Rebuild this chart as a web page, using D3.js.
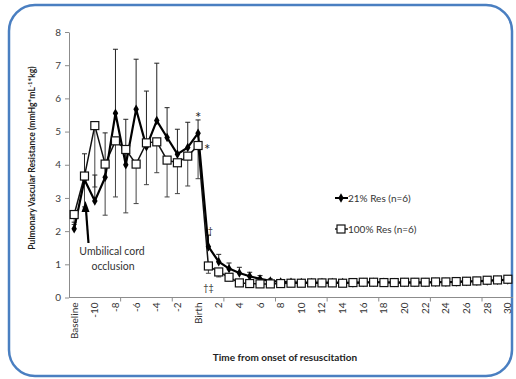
<!DOCTYPE html>
<html>
<head>
<meta charset="utf-8">
<script src="https://cdn.jsdelivr.net/npm/d3@7"></script>
<style>
  html, body { margin: 0; padding: 0; background: #fff; }
  svg { display: block; font-family: Lato, "Open Sans", sans-serif; }
</style>
</head>
<body>
<svg id="chart" width="516" height="379"></svg>
<script>
// Time points: baseline, minutes before birth, birth, minutes after birth
const categories = ["Baseline", "-11", "-10", "-9", "-8", "-7", "-6", "-5", "-4", "-3", "-2", "-1", "Birth",
  "1", "2", "3", "4", "5", "6", "7", "8", "9", "10", "11", "12", "13", "14", "15",
  "16", "17", "18", "19", "20", "21", "22", "23", "24", "25", "26", "27", "28", "29", "30"];

// Every other time point carries a label
const tickLabels = categories.filter((c, i) => i % 2 === 0);

// 21% O2 resuscitation: mean PVR and upper error
const res21 = [2.07, 3.55, 2.91, 3.62, 5.55, 4.0, 5.67, 4.54, 5.33, 4.82, 4.32, 4.52, 4.95,
  1.53, 1.08, 0.87, 0.74, 0.64, 0.56, 0.5, 0.47, 0.46, 0.45,
  0.45, 0.45, 0.45, 0.45, 0.44, 0.45, 0.46, 0.46, 0.45, 0.45,
  0.45, 0.45, 0.46, 0.46, 0.47, 0.48, 0.49, 0.5, 0.52, 0.53];
const res21Err = [0.2, 0.78, 0.78, 1.34, 1.93, 1.37, 1.51, 1.68, 1.73, 0.9, 0.75, 0.76, 0.4,
  0.35, 0.22, 0.17, 0.17, 0.12, 0.1, 0.06, 0.05, 0.04, 0.04,
  0.04, 0.04, 0.04, 0.04, 0.04, 0.04, 0.04, 0.04, 0.04, 0.04,
  0.04, 0.04, 0.04, 0.04, 0.04, 0.04, 0.04, 0.04, 0.04, 0.04];

// 100% O2 resuscitation: mean PVR and lower error
const res100 = [2.5, 3.66, 5.18, 4.02, 4.72, 4.46, 4.02, 4.66, 4.69, 4.14, 4.06, 4.26, 4.58,
  0.95, 0.77, 0.61, 0.44, 0.42, 0.41, 0.41, 0.42, 0.43, 0.43,
  0.44, 0.44, 0.44, 0.43, 0.45, 0.46, 0.46, 0.45, 0.45, 0.46,
  0.46, 0.46, 0.47, 0.47, 0.48, 0.49, 0.5, 0.52, 0.53, 0.55];
const res100Err = [0.3, 0.93, 1.85, 1.54, 1.69, 1.91, 1.19, 1.26, 0.93, 1.11, 0.93, 0.9, 1.0,
  0.22, 0.15, 0.1, 0.05, 0.04, 0.04, 0.04, 0.04, 0.04, 0.04,
  0.04, 0.04, 0.04, 0.04, 0.04, 0.04, 0.04, 0.04, 0.04, 0.04,
  0.04, 0.04, 0.04, 0.04, 0.04, 0.04, 0.04, 0.04, 0.04, 0.04];

const yTicks = [0, 1, 2, 3, 4, 5, 6, 7, 8];
const seriesNames = ["21% Res (n=6)", "100% Res (n=6)"];

const svg = d3.select("#chart");

// Rounded frame
svg.append("rect")
  .attr("x", 9).attr("y", 5).attr("width", 503).attr("height", 371)
  .attr("rx", 26).attr("ry", 26)
  .attr("fill", "#fff").attr("stroke", "#4a7fc1").attr("stroke-width", 2.5);

const x = d3.scaleBand().domain(categories).range([69, 513]).padding(0);
const xc = c => x(c) + x.bandwidth() / 2;
const y = d3.scaleLinear().domain([0, 8]).range([297.5, 32]);

// Y axis
const yAxis = svg.append("g")
  .attr("transform", "translate(69,0)")
  .call(d3.axisLeft(y).tickValues(yTicks).tickSize(4).tickSizeOuter(0).tickFormat(d3.format("d")));
yAxis.select(".domain").attr("stroke", "#8c8c8c");
yAxis.selectAll(".tick line").attr("stroke", "#8c8c8c");
yAxis.selectAll(".tick text").attr("fill", "#404040").attr("font-size", 10).attr("x", -8)
  .attr("font-family", "Lato, sans-serif");

// X axis line and tick marks (every 5 time points)
const xAxisG = svg.append("g");
xAxisG.append("line")
  .attr("x1", x.range()[0]).attr("x2", x.range()[1])
  .attr("y1", y(0)).attr("y2", y(0))
  .attr("stroke", "#8c8c8c");
xAxisG.selectAll("line.tk")
  .data(categories.filter((c, i) => i % 5 === 0 && i > 0))
  .join("line").attr("class", "tk")
  .attr("x1", d => x(d)).attr("x2", d => x(d))
  .attr("y1", y(0)).attr("y2", y(0) + 4)
  .attr("stroke", "#8c8c8c");
xAxisG.selectAll("text.lbl")
  .data(tickLabels)
  .join("text").attr("class", "lbl")
  .attr("transform", d => `translate(${xc(d)},${y(0) + 5}) rotate(-90)`)
  .attr("text-anchor", "end").attr("dy", "0.35em")
  .attr("font-size", 10).attr("fill", "#333")
  .text(d => d);

// Axis titles
svg.append("text")
  .attr("x", 285).attr("y", 361).attr("text-anchor", "middle")
  .attr("font-size", 10).attr("font-weight", "bold").attr("fill", "#222")
  .text("Time from onset of resuscitation");

const yTitle = svg.append("text")
  .attr("transform", "translate(35,158) rotate(-90)")
  .attr("text-anchor", "middle")
  .attr("font-size", 8.6).attr("font-weight", "bold").attr("fill", "#222");
yTitle.append("tspan").text("Pulmonary Vascular Resistance (mmHg*mL");
yTitle.append("tspan").attr("baseline-shift", "super").attr("font-size", 6).text("-1");
yTitle.append("tspan").text("*kg)");

// Error bars: 21% upward, 100% downward
function errorBars(vals, errs, dir, color) {
  const g = svg.append("g").attr("stroke", color).attr("stroke-width", 1);
  const data = categories.map((c, i) => ({ c, v: vals[i], e: errs[i] }));
  g.selectAll("line.bar").data(data).join("line").attr("class", "bar")
    .attr("x1", d => xc(d.c)).attr("x2", d => xc(d.c))
    .attr("y1", d => y(d.v)).attr("y2", d => y(d.v + dir * d.e));
  g.selectAll("line.cap").data(data).join("line").attr("class", "cap")
    .attr("x1", d => xc(d.c) - 2.5).attr("x2", d => xc(d.c) + 2.5)
    .attr("y1", d => y(d.v + dir * d.e)).attr("y2", d => y(d.v + dir * d.e));
}
errorBars(res100, res100Err, -1, "#444");
errorBars(res21, res21Err, 1, "#222");

// Lines
const line = d3.line().x((d, i) => xc(categories[i])).y(d => y(d));
svg.append("path").datum(res100).attr("d", line)
  .attr("fill", "none").attr("stroke", "#111").attr("stroke-width", 1.5);
svg.append("path").datum(res21).attr("d", line)
  .attr("fill", "none").attr("stroke", "#000").attr("stroke-width", 2.2);

// Markers
svg.append("g").selectAll("path")
  .data(res21).join("path")
  .attr("transform", (d, i) => `translate(${xc(categories[i])},${y(d)})`)
  .attr("d", d3.symbol(d3.symbolDiamond, 26))
  .attr("fill", "#000");
svg.append("g").selectAll("rect")
  .data(res100).join("rect")
  .attr("x", (d, i) => xc(categories[i]) - 4).attr("y", d => y(d) - 4)
  .attr("width", 8).attr("height", 8)
  .attr("fill", "#fff").attr("stroke", "#111").attr("stroke-width", 1.2);

// Significance marks
const birth = "Birth", m1 = "1";
svg.append("text").attr("x", xc(birth)).attr("y", y(res21[12] + res21Err[12]) + 3)
  .attr("text-anchor", "middle").attr("font-size", 15).attr("fill", "#222").text("*");
svg.append("text").attr("x", xc(birth) + 9).attr("y", y(res100[12]) + 9)
  .attr("text-anchor", "middle").attr("font-size", 15).attr("fill", "#222").text("*");
svg.append("text").attr("x", xc(m1) + 2).attr("y", y(res21[13] + res21Err[13]) - 1)
  .attr("text-anchor", "middle").attr("font-size", 9).attr("fill", "#333").text("†");
svg.append("text").attr("x", xc(m1)).attr("y", 291)
  .attr("text-anchor", "middle").attr("font-size", 9).attr("fill", "#333").text("†‡");

// Occlusion annotation with arrow
const ax = xc(categories[1]);
svg.append("line").attr("x1", ax + 4).attr("y1", 243).attr("x2", ax + 1.5).attr("y2", 210)
  .attr("stroke", "#000").attr("stroke-width", 2.2);
svg.append("path").attr("d", `M${ax + 1},201 L${ax - 3},212 L${ax + 5},212 Z`).attr("fill", "#000");
svg.append("text").attr("x", 112).attr("y", 255).attr("text-anchor", "middle")
  .attr("font-size", 10.5).attr("fill", "#333").text("Umbilical cord");
svg.append("text").attr("x", 113).attr("y", 270).attr("text-anchor", "middle")
  .attr("font-size", 10.5).attr("fill", "#333").text("occlusion");

// Legend
const legend = svg.append("g");
[0, 1].forEach(i => {
  const ly = i === 0 ? 198 : 229;
  legend.append("line").attr("x1", 335).attr("x2", 348).attr("y1", ly).attr("y2", ly)
    .attr("stroke", "#000").attr("stroke-width", i === 0 ? 2 : 1.3);
  if (i === 0) {
    legend.append("path").attr("transform", `translate(341,${ly})`)
      .attr("d", d3.symbol(d3.symbolDiamond, 26)).attr("fill", "#000");
  } else {
    legend.append("rect").attr("x", 337).attr("y", ly - 4).attr("width", 8).attr("height", 8)
      .attr("fill", "#fff").attr("stroke", "#111").attr("stroke-width", 1.2);
  }
  legend.append("text").attr("x", 348).attr("y", ly).attr("dy", "0.35em")
    .attr("font-size", 10).attr("fill", "#333").text(seriesNames[i]);
});
</script>
</body>
</html>
